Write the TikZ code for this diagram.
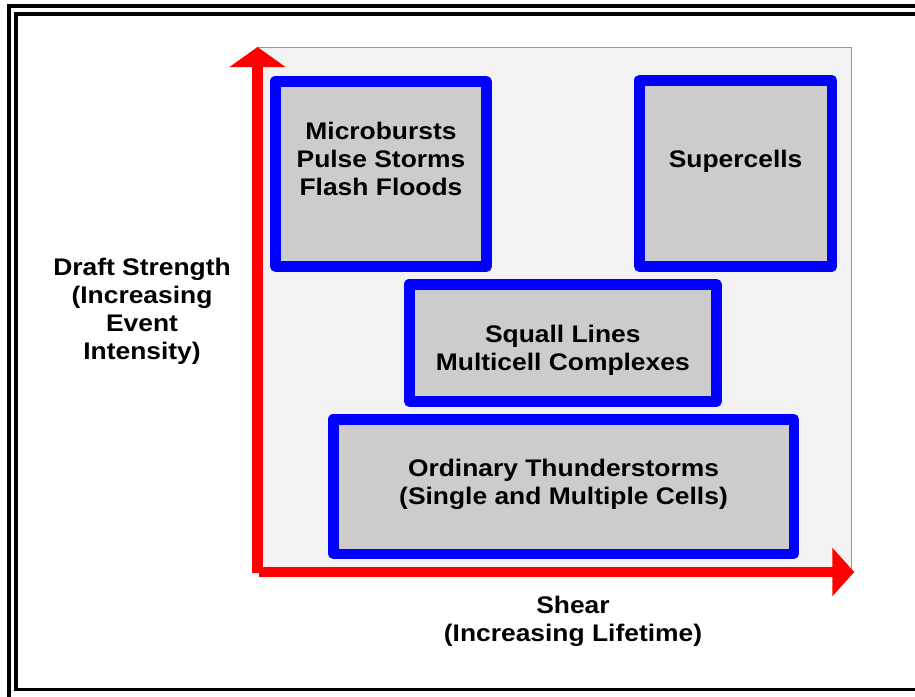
\documentclass[tikz,border=0pt]{standalone}
\usepackage{fontspec}
\setmainfont{Liberation Sans}[FakeStretch=1.1]
\usetikzlibrary{arrows.meta}
\definecolor{boxgray}{HTML}{CCCCCC}
\definecolor{bggray}{HTML}{F2F2F2}
\definecolor{lightred}{HTML}{FF6A6A}
\definecolor{axisred}{HTML}{FF0000}
\definecolor{boxblue}{HTML}{0000FF}
\tikzset{
  frameline/.style={draw=black, line width=3.6pt},
  plotbg/.style={fill=bggray, draw=lightred, line width=1.3pt},
  axisline/.style={draw=axisred, line cap=butt},
  bluebox/.style={rectangle, draw=boxblue, fill=boxgray, line width=10.5pt, line join=round, inner sep=0pt},
  lbl/.style={font=\fontsize{24}{28}\selectfont\bfseries, align=center, inner sep=0pt, text=black},
}
\begin{document}
\begin{tikzpicture}[x=1pt,y=-1pt]
\useasboundingbox (0,0) rectangle (915,696);
\clip (0,0) rectangle (915,696);
\fill[white] (0,0) rectangle (915,696);
% page frame (double line)
\draw[frameline] (9,720) -- (9,5.7) -- (940,5.7);
\draw[frameline] (940,689.5) -- (15.7,689.5) -- (15.7,13.8) -- (940,13.8);
% plot background
\path[plotbg] (257.5,47.5) rectangle (851.5,572);
% axes
\coordinate (ybase) at (257.5,572.7);
\coordinate (ytip) at (257.5,47);
\coordinate (xbase) at (259,572);
\coordinate (xtip) at (854.3,572);
\draw[axisline, line width=11.6pt, -{Triangle[width=55pt,length=20pt]}] (ybase) -- (ytip);
\draw[axisline, line width=10.6pt, -{Triangle[width=47.4pt,length=22pt]}] (xbase) -- (xtip);
% boxes
\node[bluebox, minimum width=211.2pt, minimum height=185.2pt] (b1) at (380.85,173.85) {};
\node[bluebox, minimum width=192.8pt, minimum height=186.2pt] (b2) at (735.65,173.35) {};
\node[bluebox, minimum width=307.2pt, minimum height=117.2pt] (b3) at (562.85,342.85) {};
\node[bluebox, minimum width=460.5pt, minimum height=134.5pt] (b4) at (563.5,486.5) {};
% labels
\node[lbl] (t1) at (381,159.3) {Microbursts\\Pulse Storms\\Flash Floods};
\node[lbl, anchor=base] (t2) at (735.6,167.8) {Supercells};
\node[lbl] (t3) at (562.8,350.5) {Squall Lines\\Multicell Complexes};
\node[lbl] (t4) at (563.5,484.8) {Ordinary Thunderstorms\\(Single and Multiple Cells)};
\node[lbl, font=\fontsize{24}{27.7}\selectfont\bfseries] (ylab) at (142,311.3) {Draft Strength\\(Increasing\\Event\\Intensity)};
\node[lbl] (xlab) at (573,621.7) {Shear\\(Increasing Lifetime)};
\end{tikzpicture}
\end{document}
